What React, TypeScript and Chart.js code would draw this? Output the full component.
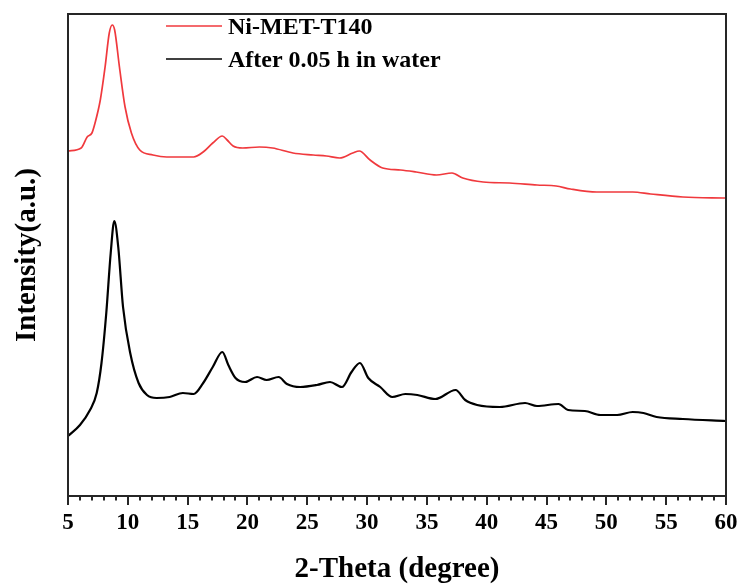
import React, { useEffect, useRef } from "react";
import { Chart, registerables } from "chart.js";

Chart.register(...registerables);

// 2-Theta (degree) positions and intensities (a.u.)
const redTheta = [5.0, 6.1, 6.6, 7.0, 7.26, 7.7, 8.1, 8.45, 8.7, 8.9, 9.3, 9.77, 10.3, 11.0, 12.1, 13.25, 15.5, 16.3, 17.1, 17.9, 18.3, 18.8, 19.6, 21.0, 22.1, 23.8, 25.5, 26.6, 27.7, 28.8, 29.35, 30.25, 31.3, 32.8, 34.1, 35.8, 37.1, 38.0, 39.7, 41.9, 44.2, 45.8, 47.0, 49.2, 50.9, 52.2, 53.7, 56.4, 60.0];
const redIntensity = [345, 348, 359, 363, 373, 396, 429, 463, 471, 466, 429, 389, 363, 346, 341, 339, 339, 344, 353, 360, 356, 350, 348, 349, 348, 343, 341, 340, 338, 343, 345, 336, 328, 326, 324, 321, 323, 318, 314, 313, 311, 310, 307, 304, 304, 304, 302, 299, 298];

const blackTheta = [5.0, 6.0, 6.84, 7.4, 7.8, 8.2, 8.57, 8.87, 9.2, 9.6, 10.2, 10.9, 11.6, 12.4, 13.5, 14.6, 15.5, 16.3, 17.1, 17.9, 18.4, 19.0, 19.8, 20.8, 21.6, 22.6, 23.3, 24.4, 25.8, 26.9, 27.9, 28.7, 29.4, 30.1, 31.1, 32.1, 33.2, 34.2, 35.7, 37.4, 38.2, 39.2, 41.1, 43.2, 44.2, 46.0, 46.8, 48.2, 49.5, 50.9, 52.2, 53.1, 54.2, 56.4, 60.0];
const blackIntensity = [60, 71, 86, 103, 133, 183, 243, 275, 249, 189, 143, 113, 101, 98, 99, 103, 102, 113, 129, 144, 131, 118, 114, 119, 116, 119, 112, 109, 111, 114, 109, 124, 133, 118, 109, 99, 102, 101, 97, 106, 96, 91, 89, 93, 90, 92, 86, 85, 81, 81, 84, 83, 79, 77, 75];

const seriesLabels = ["Ni-MET-T140", "After 0.05 h in water"];
const seriesColors = ["#f0393d", "#000000"];
const xMin = 5;
const xMax = 60;
const xStep = 5;
const xTitle = "2-Theta (degree)";
const yTitle = "Intensity(a.u.)";

const FONT = "'Liberation Serif', 'Times New Roman', serif";

const framePlugin = {
  id: "framePlugin",
  afterDatasetsDraw(chart: any) {
    const { ctx, chartArea, scales } = chart;
    const x = scales.x;
    ctx.save();
    ctx.strokeStyle = "#262626";
    ctx.lineWidth = 2;
    ctx.strokeRect(chartArea.left, chartArea.top, chartArea.right - chartArea.left, chartArea.bottom - chartArea.top);
    ctx.lineWidth = 2;
    for (let v = xMin; v <= xMax; v += 1) {
      const px = Math.round(x.getPixelForValue(v));
      const len = v % 5 === 0 ? 9 : 4.5;
      ctx.beginPath();
      ctx.moveTo(px, chartArea.bottom);
      ctx.lineTo(px, chartArea.bottom + len);
      ctx.stroke();
    }
    // legend
    const ds = chart.data.datasets;
    ds.forEach((d: any, i: number) => {
      const y = 26 + i * 33;
      ctx.strokeStyle = d.borderColor;
      ctx.lineWidth = 1.5;
      ctx.beginPath();
      ctx.moveTo(166, y);
      ctx.lineTo(222, y);
      ctx.stroke();
      ctx.fillStyle = "#000";
      ctx.font = `bold 24px ${FONT}`;
      ctx.textBaseline = "middle";
      ctx.textAlign = "left";
      ctx.fillText(d.label, 228, y + 2);
    });
    ctx.restore();
  },
};

export default function App() {
  const ref = useRef<HTMLCanvasElement>(null);
  useEffect(() => {
    if (!ref.current) return;
    const chart = new Chart(ref.current, {
      type: "line",
      data: {
        datasets: [
          {
            label: seriesLabels[0],
            data: redTheta.map((t, i) => ({ x: t, y: redIntensity[i] })),
            borderColor: seriesColors[0],
            borderWidth: 1.7,
            pointRadius: 0,
            cubicInterpolationMode: "monotone",
            fill: false,
          },
          {
            label: seriesLabels[1],
            data: blackTheta.map((t, i) => ({ x: t, y: blackIntensity[i] })),
            borderColor: seriesColors[1],
            borderWidth: 2.2,
            pointRadius: 0,
            cubicInterpolationMode: "monotone",
            fill: false,
          },
        ],
      },
      options: {
        responsive: false,
        animation: false,
        layout: { padding: { top: 14, right: 16, left: 0, bottom: 0 } },
        plugins: { legend: { display: false }, tooltip: { enabled: false } },
        scales: {
          x: {
            type: "linear",
            min: xMin,
            max: xMax,
            grid: { display: false, drawTicks: false },
            border: { display: false },
            ticks: {
              stepSize: xStep,
              autoSkip: false,
              maxRotation: 0,
              padding: 13,
              color: "#000",
              font: { family: FONT, size: 23, weight: "bold" },
            },
            title: {
              display: true,
              text: xTitle,
              color: "#000",
              font: { family: FONT, size: 29, weight: "bold", lineHeight: 1 },
              padding: { top: 0, bottom: 0 },
            },
            afterFit(scale: any) {
              scale.height = 88;
              scale.paddingLeft = 0;
              scale.paddingRight = 0;
            },
          },
          y: {
            type: "linear",
            min: 0,
            max: 482,
            grid: { display: false, drawTicks: false },
            border: { display: false },
            ticks: { display: false },
            title: {
              display: true,
              text: yTitle,
              color: "#000",
              font: { family: FONT, size: 29, weight: "bold", lineHeight: 1 },
              padding: { top: 13, bottom: 0 },
            },
            afterFit(scale: any) {
              scale.width = 68;
            },
          },
        },
      },
      plugins: [framePlugin],
    });
    return () => chart.destroy();
  }, []);
  return (
    <div style={{ position: "fixed", left: 0, top: 0, width: 742, height: 584, background: "#fff" }}>
      <canvas ref={ref} width={742} height={584} />
    </div>
  );
}
